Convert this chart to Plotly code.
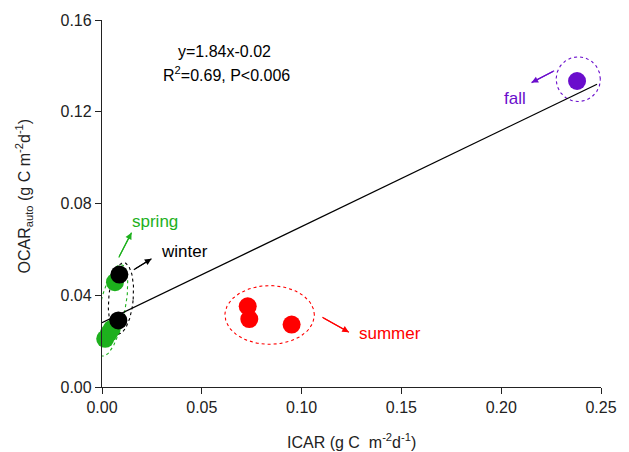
import numpy as np
import plotly.graph_objects as go

# ---- data ----
spring_x = [0.0016, 0.0035, 0.0049, 0.0065]
spring_y = [0.0210, 0.0235, 0.0254, 0.0457]
winter_x = [0.0082, 0.0087]
winter_y = [0.0290, 0.0490]
summer_x = [0.0730, 0.0738, 0.0950]
summer_y = [0.0352, 0.0296, 0.0272]
fall_x = [0.2380]
fall_y = [0.1334]
fit_x = [0.0, 0.248]
fit_y = [0.028, 0.132]

x_ticks = [0.00, 0.05, 0.10, 0.15, 0.20, 0.25]
y_ticks = [0.00, 0.04, 0.08, 0.12, 0.16]

GREEN = "#1db01d"
RED = "#ff0000"
PURPLE = "#6a0dcc"
FONT = "Liberation Sans, Arial, sans-serif"

W, H = 629, 452
L, R, T, B = 102, 19, 18, 65
XR = [0, 0.25]
YR = [0, 0.16]
sx = (W - L - R) / (XR[1] - XR[0])  # px per x unit
sy = (H - T - B) / (YR[1] - YR[0])  # px per y unit


def ellipse(cx, cy, a_px, b_px, tilt_deg, n=120):
    t = np.linspace(0, 2 * np.pi, n)
    th = np.deg2rad(tilt_deg)
    # a_px: vertical semi-axis, b_px: horizontal semi-axis (pixels), tilt clockwise
    px = b_px * np.cos(t)
    py = a_px * np.sin(t)
    rx = px * np.cos(th) + py * np.sin(th)
    ry = -px * np.sin(th) + py * np.cos(th)
    return cx + rx / sx, cy + ry / sy


fig = go.Figure()

# dashed group ellipses
ells = [
    (0.0050, 0.0334, 47, 13, 12, GREEN),
    (0.0095, 0.0386, 36, 12.5, 5, "black"),
    (0.0840, 0.0314, 29.5, 45.5, 0, RED),
    (0.2386, 0.1342, 22.5, 22.5, 0, PURPLE),
]
for cx, cy, a, b, tilt, col in ells:
    ex, ey = ellipse(cx, cy, a, b, tilt)
    fig.add_trace(go.Scatter(x=ex, y=ey, mode="lines",
                             line=dict(color=col, width=1.1, dash="3px,3px"),
                             hoverinfo="skip", showlegend=False, cliponaxis=False))

# regression line
fig.add_trace(go.Scatter(x=fit_x, y=fit_y, mode="lines",
                         line=dict(color="black", width=1.3),
                         showlegend=False, cliponaxis=False))

for xs, ys, col in [(spring_x, spring_y, GREEN), (winter_x, winter_y, "black"),
                    (summer_x, summer_y, RED), (fall_x, fall_y, PURPLE)]:
    fig.add_trace(go.Scatter(x=xs, y=ys, mode="markers",
                             marker=dict(color=col, size=18, line=dict(width=0)),
                             showlegend=False, cliponaxis=False))

# arrows (head in data coords, tail offset in px): shaft as a line, head as annotation
arrows = [
    (0.0148, 0.0673, -13, 25, GREEN),
    (0.0248, 0.0559, -18, 11, "black"),
    (0.1237, 0.0239, -27, -15, RED),
    (0.2152, 0.1327, 23, -12, PURPLE),
]
for x, y, ax, ay, col in arrows:
    tx = x + ax / sx
    ty = y - ay / sy
    fig.add_trace(go.Scatter(x=[tx, x], y=[ty, y], mode="lines",
                             line=dict(color=col, width=1.2),
                             hoverinfo="skip", showlegend=False, cliponaxis=False))
    fig.add_annotation(x=x, y=y, ax=ax, ay=ay, xref="x", yref="y",
                       showarrow=True, arrowhead=2, arrowsize=1.2, arrowwidth=1.1,
                       arrowcolor=col, text="")

labels = [
    ("spring", 0.0268, 0.0720, GREEN),
    ("winter", 0.0415, 0.0590, "black"),
    ("summer", 0.1443, 0.0234, RED),
    ("fall", 0.2068, 0.1258, PURPLE),
]
for txt, x, y, col in labels:
    fig.add_annotation(x=x, y=y, text=txt, showarrow=False,
                       font=dict(family=FONT, size=17, color=col))

fig.add_annotation(x=0.0612, y=0.1461, text="y=1.84x-0.02", showarrow=False,
                   font=dict(family=FONT, size=16, color="black"))
fig.add_annotation(x=0.0622, y=0.1366, text="R<sup>2</sup>=0.69, P<0.006", showarrow=False,
                   font=dict(family=FONT, size=16, color="black"))

# axis titles
fig.add_annotation(xref="paper", yref="paper", x=0.5, y=(387 - 441) / (H - T - B),
                   text="ICAR (g C  m<sup>-2</sup>d<sup>-1</sup>)", showarrow=False,
                   font=dict(family=FONT, size=16, color="#222"), yanchor="middle")
fig.add_annotation(xref="paper", yref="paper", x=(23 - L) / (W - L - R), y=(387 - 195) / (H - T - B),
                   text="OCAR<sub>auto</sub> (g C m<sup>-2</sup>d<sup>-1</sup>)", showarrow=False,
                   textangle=-90, font=dict(family=FONT, size=16, color="#222"),
                   xanchor="center", yanchor="middle")

axis_common = dict(showgrid=False, zeroline=False, showline=True, linecolor="#222",
                   linewidth=1.3, ticks="outside", ticklen=6, tickwidth=1.2, tickcolor="#222",
                   tickfont=dict(family=FONT, size=16, color="#222"), tickformat=".2f")
fig.update_xaxes(range=XR, tickvals=x_ticks, **axis_common)
fig.update_yaxes(range=YR, tickvals=y_ticks, **axis_common)

fig.update_layout(width=W, height=H, margin=dict(l=L, r=R, t=T, b=B),
                  plot_bgcolor="white", paper_bgcolor="white", showlegend=False)

fig.write_html("out.html")
